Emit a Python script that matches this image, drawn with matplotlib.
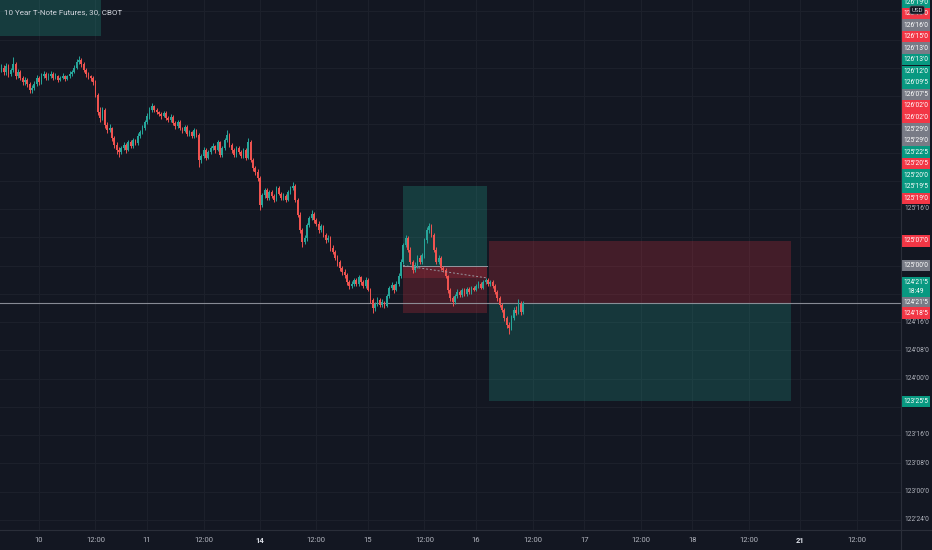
import matplotlib

matplotlib.use("Agg")
import matplotlib.pyplot as plt
import numpy as np
from matplotlib.lines import Line2D
from matplotlib.patches import Rectangle

plt.rcParams["font.family"] = ["Roboto", "DejaVu Sans"]

BG = "#131722"
GRID = "#1d212c"
UP = "#26a69a"
DOWN = "#ef5350"
BOX_GREEN = "#089981"
BOX_RED = "#f23645"
BOX_GRAY = "#787b86"
AXIS_TEXT = "#b2b5be"

TITLE = "10 Year T-Note Futures, 30, CBOT"

# 30-minute bars, Wed 9 Feb 15:00 -> Wed 16 Feb ~10:00 (CT)
first_open = 126.730
closes = [
    126.748, 126.713, 126.766, 126.695, 126.730, 126.784, 126.677, 126.713, 126.660, 126.624,
    126.642, 126.607, 126.554, 126.571, 126.607, 126.660, 126.624, 126.677, 126.695, 126.660,
    126.677, 126.695, 126.660, 126.677, 126.642, 126.660, 126.677, 126.651, 126.677, 126.695,
    126.713, 126.748, 126.801, 126.819, 126.784, 126.730, 126.695, 126.677, 126.660, 126.624,
    126.509, 126.359, 126.306, 126.376, 126.244, 126.200, 126.217, 126.129, 126.067, 126.023,
    126.005, 126.040, 126.067, 126.023, 126.093, 126.058, 126.111, 126.085, 126.146, 126.182,
    126.217, 126.270, 126.323, 126.376, 126.412, 126.376, 126.359, 126.341, 126.323, 126.350,
    126.306, 126.288, 126.315, 126.262, 126.235, 126.270, 126.217, 126.191, 126.226, 126.164,
    126.182, 126.146, 126.200, 126.155, 125.934, 125.969, 126.023, 125.952, 126.005, 126.040,
    126.058, 126.023, 126.093, 125.978, 126.040, 126.111, 126.155, 126.067, 126.023, 125.978,
    126.040, 126.005, 125.969, 126.023, 125.952, 126.093, 125.934, 125.863, 125.828, 125.775,
    125.536, 125.624, 125.668, 125.598, 125.651, 125.615, 125.580, 125.686, 125.633, 125.598,
    125.615, 125.580, 125.651, 125.686, 125.704, 125.580, 125.447, 125.314, 125.208, 125.244,
    125.359, 125.420, 125.456, 125.403, 125.368, 125.314, 125.350, 125.270, 125.226, 125.244,
    125.155, 125.120, 125.067, 125.031, 124.978, 124.943, 124.916, 124.854, 124.819, 124.837,
    124.872, 124.837, 124.894, 124.854, 124.819, 124.872, 124.783, 124.695, 124.624, 124.660,
    124.695, 124.651, 124.677, 124.642, 124.730, 124.801, 124.828, 124.783, 124.837, 124.907,
    125.031, 125.182, 125.244, 125.138, 125.031, 124.961, 125.005, 125.067, 125.031, 125.093,
    125.226, 125.314, 125.350, 125.270, 125.138, 125.031, 125.067, 124.978, 124.961, 124.907,
    124.783, 124.712, 124.677, 124.730, 124.766, 124.739, 124.783, 124.748, 124.792, 124.766,
    124.801, 124.783, 124.819, 124.837, 124.801, 124.854, 124.872, 124.837, 124.854, 124.819,
    124.766, 124.712, 124.651, 124.607, 124.536, 124.474, 124.447, 124.536, 124.607, 124.580,
    124.660, 124.589, 124.672,
]
highs = [
    126.78, 126.77, 126.79, 126.78, 126.75, 126.845, 126.80, 126.74, 126.73, 126.68,
    126.67, 126.66, 126.62, 126.60, 126.63, 126.69, 126.68, 126.70, 126.72, 126.71,
    126.70, 126.72, 126.71, 126.70, 126.69, 126.68, 126.70, 126.69, 126.69, 126.72,
    126.73, 126.77, 126.83, 126.854, 126.84, 126.80, 126.75, 126.71, 126.69, 126.68,
    126.64, 126.53, 126.40, 126.40, 126.39, 126.27, 126.25, 126.23, 126.15, 126.09,
    126.05, 126.06, 126.09, 126.08, 126.11, 126.11, 126.13, 126.12, 126.17, 126.20,
    126.24, 126.29, 126.35, 126.40, 126.438, 126.42, 126.39, 126.37, 126.36, 126.37,
    126.37, 126.32, 126.34, 126.33, 126.28, 126.29, 126.29, 126.23, 126.24, 126.24,
    126.20, 126.19, 126.22, 126.21, 126.17, 125.99, 126.05, 126.04, 126.02, 126.06,
    126.08, 126.07, 126.11, 126.10, 126.06, 126.13, 126.200, 126.17, 126.08, 126.04,
    126.06, 126.06, 126.02, 126.04, 126.04, 126.129, 126.11, 125.95, 125.88, 125.85,
    125.79, 125.64, 125.69, 125.69, 125.67, 125.67, 125.63, 125.70, 125.70, 125.65,
    125.64, 125.63, 125.67, 125.70, 125.739, 125.72, 125.60, 125.47, 125.33, 125.27,
    125.38, 125.44, 125.492, 125.47, 125.42, 125.39, 125.37, 125.36, 125.29, 125.27,
    125.26, 125.18, 125.14, 125.09, 125.05, 125.00, 124.97, 124.93, 124.87, 124.86,
    124.89, 124.89, 124.92, 124.91, 124.87, 124.90, 124.89, 124.80, 124.71, 124.68,
    124.72, 124.71, 124.70, 124.69, 124.75, 124.82, 124.85, 124.84, 124.86, 124.93,
    125.06, 125.20, 125.270, 125.26, 125.16, 125.05, 125.03, 125.09, 125.09, 125.11,
    125.24, 125.34, 125.376, 125.37, 125.29, 125.16, 125.09, 125.08, 125.00, 124.98,
    124.92, 124.80, 124.73, 124.75, 124.79, 124.78, 124.80, 124.80, 124.81, 124.81,
    124.82, 124.82, 124.84, 124.86, 124.85, 124.87, 124.89, 124.89, 124.87, 124.87,
    124.84, 124.78, 124.73, 124.67, 124.62, 124.55, 124.50, 124.56, 124.63, 124.64,
    124.70, 124.69, 124.69,
]
lows = [
    126.71, 126.69, 126.69, 126.67, 126.68, 126.71, 126.65, 126.66, 126.64, 126.60,
    126.60, 126.58, 126.53, 126.527, 126.55, 126.59, 126.60, 126.61, 126.66, 126.64,
    126.64, 126.66, 126.64, 126.65, 126.62, 126.63, 126.65, 126.63, 126.64, 126.66,
    126.68, 126.70, 126.74, 126.78, 126.76, 126.71, 126.67, 126.65, 126.63, 126.60,
    126.49, 126.33, 126.27, 126.29, 126.22, 126.17, 126.18, 126.10, 126.04, 125.99,
    125.961, 125.99, 126.02, 126.00, 126.01, 126.04, 126.04, 126.07, 126.07, 126.13,
    126.16, 126.20, 126.25, 126.30, 126.36, 126.36, 126.34, 126.32, 126.30, 126.31,
    126.29, 126.27, 126.27, 126.24, 126.21, 126.22, 126.20, 126.17, 126.18, 126.15,
    126.15, 126.13, 126.13, 126.14, 125.872, 125.91, 125.95, 125.93, 125.94, 125.99,
    126.02, 126.00, 126.01, 125.96, 125.96, 126.02, 126.09, 126.05, 126.00, 125.96,
    125.96, 125.99, 125.95, 125.95, 125.93, 125.94, 125.92, 125.84, 125.80, 125.75,
    125.492, 125.52, 125.60, 125.58, 125.58, 125.60, 125.56, 125.57, 125.62, 125.58,
    125.58, 125.56, 125.57, 125.63, 125.67, 125.56, 125.43, 125.29, 125.164, 125.19,
    125.22, 125.34, 125.40, 125.38, 125.35, 125.29, 125.30, 125.25, 125.20, 125.21,
    125.13, 125.10, 125.05, 125.00, 124.95, 124.92, 124.89, 124.83, 124.79, 124.80,
    124.82, 124.82, 124.82, 124.83, 124.80, 124.80, 124.77, 124.67, 124.580, 124.60,
    124.64, 124.63, 124.63, 124.62, 124.63, 124.71, 124.78, 124.76, 124.77, 124.82,
    124.89, 125.01, 125.16, 125.12, 125.01, 124.93, 124.94, 124.98, 125.01, 125.01,
    125.07, 125.20, 125.29, 125.25, 125.12, 125.01, 125.01, 124.96, 124.94, 124.89,
    124.76, 124.69, 124.642, 124.66, 124.71, 124.72, 124.72, 124.73, 124.73, 124.75,
    124.75, 124.77, 124.77, 124.80, 124.79, 124.79, 124.84, 124.82, 124.82, 124.80,
    124.75, 124.69, 124.63, 124.59, 124.51, 124.45, 124.394, 124.43, 124.52, 124.56,
    124.57, 124.56, 124.57,
]

# time axis (bar index of each label)
tick_bars = [16, 40, 62, 86, 110, 134, 156, 180, 202, 226, 248, 272, 294, 318, 340, 364]
tick_labels = ["10", "12:00", "11", "12:00", "14", "12:00", "15", "12:00",
               "16", "12:00", "17", "12:00", "18", "12:00", "21", "12:00"]
week_starts = ["14", "21"]

# price grid levels (every 8/32)
grid_levels = [122.75, 123.0, 123.25, 123.5, 123.75, 124.0, 124.25, 124.5, 124.75,
               125.0, 125.25, 125.5, 125.75, 126.0, 126.25, 126.5, 126.75, 127.0, 127.25]

# position tools: (start bar, end bar, entry, stop, target)
long_pos = (170.9, 206.6, 125.0, 124.578125, 125.703125)
long_last = 124.89
short_pos = (207.5, 336.0, 124.671875, 125.21875, 123.796875)
upper_zone = (-0.6, 42.4, 127.03, 127.6)

# stacked labels at the top of the price scale
stack_prices = [126.59375, 126.59375, 126.5, 126.46875, 126.40625, 126.40625, 126.375,
                126.296875, 126.234375, 126.0625, 126.0625, 125.90625, 125.90625,
                125.703125, 125.640625, 125.625, 125.609375, 125.59375]
stack_colors = ["g", "r", "k", "r", "k", "g", "g", "g", "k", "r", "r", "k", "k",
                "g", "r", "g", "g", "r"]
COLORS = {"g": BOX_GREEN, "r": BOX_RED, "k": BOX_GRAY}


def fmt32(p):
    whole = int(np.floor(p))
    f = (p - whole) * 32
    n = int(np.floor(f + 1e-9))
    tenth = int(round((f - n) * 10))
    return f"{whole}'{n:02d}'{tenth}"


W, H = 932, 550
PX_PER_PT = 113.0
BAR_PX = 2.35
FS = 4.8
fig = plt.figure(figsize=(W / 100, H / 100), dpi=100, facecolor=BG)
ax = fig.add_axes([0, 20 / H, 901 / W, 530 / H], facecolor=BG)
pax = fig.add_axes([901 / W, 20 / H, 31 / W, 530 / H], facecolor=BG)

y_lo = 124.5 - (530 - 322) / PX_PER_PT
y_hi = 124.5 + 322 / PX_PER_PT
ax.set_ylim(y_lo, y_hi)
ax.set_xlim(-1.4 / BAR_PX, (901 - 1.4) / BAR_PX)
pax.set_ylim(y_lo, y_hi)
pax.set_xlim(0, 1)


def to_px(price):
    return (y_hi - price) * PX_PER_PT


for a in (ax, pax):
    for s in a.spines.values():
        s.set_visible(False)

ax.set_yticks(grid_levels)
ax.tick_params(axis="y", length=0, labelleft=False)
ax.set_xticks(tick_bars, tick_labels)
ax.tick_params(axis="x", length=0, pad=5, labelsize=5.5, labelcolor=AXIS_TEXT)
for lab in ax.get_xticklabels():
    if lab.get_text() in week_starts:
        lab.set_fontweight("bold")
        lab.set_color("#e0e3eb")
ax.grid(True, color=GRID, lw=0.7, zorder=0)
ax.set_axisbelow(True)
pax.set_xticks([])
pax.set_yticks([])


# shaded zones of the position tools
def zone(x0, x1, y0, y1, color, alpha):
    ax.add_patch(Rectangle((x0, y0), x1 - x0, y1 - y0, facecolor=color,
                           alpha=alpha, lw=0, zorder=1))


zone(upper_zone[0], upper_zone[1], upper_zone[2], upper_zone[3], "#22ab94", 0.25)

s0, s1, entry, stop, target = long_pos
zone(s0, s1, entry, target, "#22ab94", 0.25)
zone(s0, s1, stop, entry, BOX_RED, 0.22)
zone(s0, s1, long_last, entry, BOX_RED, 0.18)
ax.plot([s0, s1], [entry, entry], color="#9598a1", lw=0.7, zorder=2)
ax.plot([s0, s1], [entry, long_last], color="#9598a1", lw=0.7, ls=(0, (2, 2)), zorder=5)

s0, s1, entry, stop, target = short_pos
zone(s0, s1, entry, stop, BOX_RED, 0.22)
zone(s0, s1, target, entry, "#22ab94", 0.22)

# last price line
ax.axhline(closes[-1], color="#9598a1", lw=0.8, alpha=0.9, zorder=2)

# candles
c = np.array(closes)
o = np.r_[first_open, c[:-1]]
x = np.arange(len(c))
col = np.where(c >= o, UP, DOWN)
ax.vlines(x, lows, highs, colors=col, lw=0.7, zorder=3)
ax.bar(x, np.maximum(np.abs(c - o), 0.006), bottom=np.minimum(o, c), width=0.72,
       color=col, lw=0, zorder=4)

# price scale boxes (centre in px from top, height px, colour, lines of text)
BOX_H = 11.5
boxes = []
for i, (p, k) in enumerate(zip(stack_prices, stack_colors)):
    boxes.append((2 + i * 11.55, BOX_H, COLORS[k], [fmt32(p)]))
boxes.append((to_px(short_pos[3]), BOX_H, BOX_RED, [fmt32(short_pos[3])]))
boxes.append((to_px(long_pos[2]), BOX_H, BOX_GRAY, [fmt32(long_pos[2])]))
boxes.append((to_px(short_pos[2]), BOX_H, BOX_GRAY, [fmt32(short_pos[2])]))
boxes.append((to_px(long_pos[3]), BOX_H, BOX_RED, [fmt32(long_pos[3])]))
boxes.append((to_px(short_pos[4]), BOX_H, BOX_GREEN, [fmt32(short_pos[4])]))
boxes.append((to_px(closes[-1]) - 16, 20, BOX_GREEN, [fmt32(short_pos[2]), "18:49"]))

# plain scale labels, only where no box hides them fully
for lv in grid_levels:
    yp = to_px(lv)
    if any(abs(yp - yc) < h / 2 for yc, h, _, _ in boxes):
        continue
    pax.text(0.52, lv, fmt32(lv), ha="center", va="center", fontsize=FS,
             color=AXIS_TEXT, zorder=1)

for yc, h, colr, lines in boxes:
    yf = 1 - yc / 530
    hf = h / 530
    pax.add_patch(Rectangle((0, yf - hf / 2), 0.92, hf, transform=pax.transAxes,
                            facecolor=colr, lw=0, zorder=3))
    n = len(lines)
    for j, t in enumerate(lines):
        off = (j - (n - 1) / 2) * 9.0 / 530
        pax.text(0.47, yf - off, t, transform=pax.transAxes, ha="center",
                 va="center", fontsize=FS, color="white", zorder=4)

pax.text(0.52, 1 - 10 / 530, "USD", transform=pax.transAxes, ha="center", va="center",
         fontsize=4.4, color="#d1d4dc", zorder=6,
         bbox=dict(boxstyle="round,pad=0.25", facecolor=BG, edgecolor="#5d606b", lw=0.5))

# separators
fig.add_artist(Line2D([0, 1], [20 / H, 20 / H], color="#2a2e39", lw=0.8))
fig.add_artist(Line2D([901 / W, 901 / W], [0, 1], color="#2a2e39", lw=0.8))

fig.text(4 / W, 1 - 12 / H, TITLE, ha="left", va="center", fontsize=5.8, color="#d1d4dc")

fig.savefig("out.png", dpi=100, facecolor=BG)
